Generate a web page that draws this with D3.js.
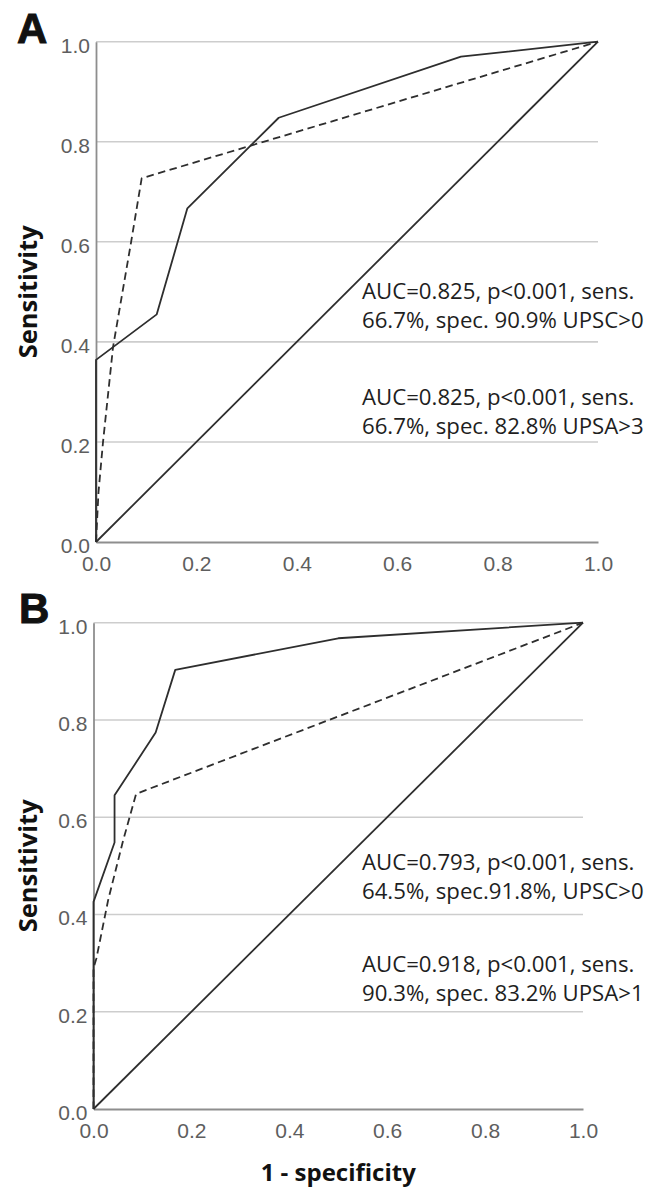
<!DOCTYPE html>
<html>
<head>
<meta charset="utf-8">
<script src="https://cdn.jsdelivr.net/npm/d3@7"></script>
<style>
	html, body { margin: 0; padding: 0; background: #fff; }
	svg { display: block; }
</style>
</head>
<body>
<svg id="chart" width="646" height="1188"></svg>
<script>
// tick values (both axes)
const ticks = [0, 0.2, 0.4, 0.6, 0.8, 1.0]

// ROC curves: [1 - specificity, sensitivity]
const rocASolid = [[0, 0], [0, 0.364], [0.121, 0.455], [0.182, 0.667], [0.364, 0.848], [0.727, 0.97], [1, 1]]
const rocADashed = [[0, 0], [0.005, 0.1], [0.014, 0.2], [0.034, 0.39], [0.07, 0.6], [0.091, 0.727], [1, 1]]
const rocBSolid = [[0, 0], [0, 0.426], [0.043, 0.548], [0.043, 0.645], [0.127, 0.774], [0.167, 0.903], [0.5, 0.968], [1, 1]]
const rocBDashed = [[0, 0], [0, 0.29], [0.006, 0.31], [0.03, 0.43], [0.06, 0.55], [0.087, 0.648], [1, 1]]
const diagonal = [[0, 0], [1, 1]]

// annotation texts
const notesA = [
	['AUC=0.825, p<0.001, sens.', '66.7%, spec. 90.9% UPSC>0'],
	['AUC=0.825, p<0.001, sens.', '66.7%, spec. 82.8% UPSA>3']
]
const notesB = [
	['AUC=0.793, p<0.001, sens.', '64.5%, spec.91.8%, UPSC>0'],
	['AUC=0.918, p<0.001, sens.', '90.3%, spec. 83.2% UPSA>1']
]

const panels = [
	{ letter: 'A', left: 96, right: 598, top: 41.7, bottom: 542, letterX: 17, letterY: 43,
		solid: rocASolid, dashed: rocADashed, notes: notesA, noteY: [299, 405] },
	{ letter: 'B', left: 93.5, right: 583, top: 622.7, bottom: 1109, letterX: 19, letterY: 623,
		solid: rocBSolid, dashed: rocBDashed, notes: notesB, noteY: [870, 972] }
]

const svg = d3.select('#chart')
const tickFont = '"Liberation Sans", Arial, sans-serif'
const labelFont = '"Open Sans", "Noto Sans", sans-serif'

panels.forEach((p) => {
	const x = d3.scaleLinear().domain([0, 1]).range([p.left, p.right])
	const y = d3.scaleLinear().domain([0, 1]).range([p.bottom, p.top])
	const g = svg.append('g')

	// gridlines
	g.selectAll('line.grid')
		.data(ticks.filter((t) => t > 0))
		.join('line')
		.attr('class', 'grid')
		.attr('x1', x(0))
		.attr('x2', x(1))
		.attr('y1', (d) => y(d))
		.attr('y2', (d) => y(d))
		.style('stroke', '#cdcdcd')
		.style('stroke-width', 1.6)

	// y axis
	const yAxis = g.append('g')
		.attr('transform', `translate(${x(0)},0)`)
		.call(d3.axisLeft(y).tickValues(ticks).tickFormat(d3.format('.1f')).tickSize(0).tickPadding(6))
	yAxis.select('.domain').style('stroke', '#8e8e8e').style('stroke-width', 1.8)
	yAxis.selectAll('text')
		.attr('dy', '0.5em')
		.style('font-family', tickFont)
		.style('font-size', '21px')
		.style('fill', '#5e5e5e')

	// x axis
	const xAxis = g.append('g')
		.attr('transform', `translate(0,${y(0)})`)
		.call(d3.axisBottom(x).tickValues(ticks).tickFormat(d3.format('.1f')).tickSize(0).tickPadding(14.5))
	xAxis.select('.domain').style('stroke', '#8e8e8e').style('stroke-width', 1.8)
	xAxis.selectAll('text')
		.style('font-family', tickFont)
		.style('font-size', '21px')
		.style('fill', '#5e5e5e')

	// curves
	const line = d3.line().x((d) => x(d[0])).y((d) => y(d[1]))
	const curves = [
		{ pts: diagonal, dash: null },
		{ pts: p.dashed, dash: '7.5,4.5' },
		{ pts: p.solid, dash: null }
	]
	g.selectAll('path.roc')
		.data(curves)
		.join('path')
		.attr('class', 'roc')
		.attr('d', (d) => line(d.pts))
		.style('fill', 'none')
		.style('stroke', '#2e2e2e')
		.style('stroke-width', 1.8)
		.style('stroke-linejoin', 'round')
		.style('stroke-dasharray', (d) => d.dash)

	// panel letter
	g.append('text')
		.attr('x', p.letterX)
		.attr('y', p.letterY)
		.text(p.letter)
		.style('font-family', '"Liberation Sans", Arial, sans-serif')
		.style('font-weight', 'bold')
		.style('font-size', '42px')
		.style('stroke', '#111')
		.style('stroke-width', 1)
		.style('fill', '#111')

	// y label
	g.append('text')
		.attr('transform', `translate(37,${(p.top + p.bottom) / 2}) rotate(-90)`)
		.attr('text-anchor', 'middle')
		.text('Sensitivity')
		.style('font-family', labelFont)
		.style('font-weight', 'bold')
		.style('font-size', '25.5px')
		.style('fill', '#111')

	// annotations
	p.notes.forEach((lines, i) => {
		const t = g.append('text')
			.attr('x', 362)
			.attr('y', p.noteY[i])
			.style('font-family', labelFont)
			.style('font-size', '22.2px')
			.style('fill', '#1e1e1e')
		lines.forEach((s, j) => {
			t.append('tspan').attr('x', 362).attr('dy', j === 0 ? 0 : 29).text(s)
		})
	})
})

// x label under the bottom panel
const last = panels[1]
svg.append('text')
	.attr('x', (last.left + last.right) / 2)
	.attr('y', 1180.5)
	.attr('text-anchor', 'middle')
	.text('1 - specificity')
	.style('font-family', labelFont)
	.style('font-weight', 'bold')
	.style('font-size', '24px')
	.style('fill', '#111')
</script>
</body>
</html>
